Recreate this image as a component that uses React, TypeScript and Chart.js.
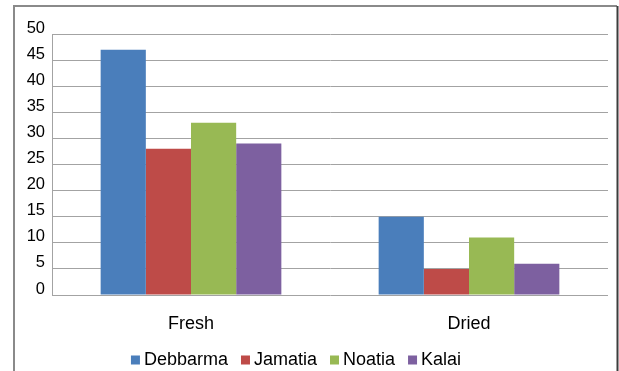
import React, { useEffect, useRef } from "react";
import { Chart, registerables } from "chart.js";

Chart.register(...registerables);

const categories = ["Fresh", "Dried"];
const seriesNames = ["Debbarma", "Jamatia", "Noatia", "Kalai"];
const seriesColors = ["#4a7ebb", "#be4b48", "#98b954", "#7d60a0"];
const debbarma = [47, 15];
const jamatia = [28, 5];
const noatia = [33, 11];
const kalai = [29, 6];
const yTicks = [0, 5, 10, 15, 20, 25, 30, 35, 40, 45, 50];

const FONT = '"Liberation Sans", Arial, sans-serif';

const frameAndLegend = {
  id: "frameAndLegend",
  beforeDraw(chart: any) {
    const ctx = chart.ctx;
    ctx.save();
    ctx.fillStyle = "#ffffff";
    ctx.fillRect(0, 0, chart.width, chart.height);
    ctx.lineWidth = 2;
    ctx.strokeStyle = "#8a8a8a";
    ctx.beginPath();
    ctx.moveTo(14, chart.height + 5);
    ctx.lineTo(14, 6);
    ctx.lineTo(617, 6);
    ctx.stroke();
    ctx.strokeStyle = "#3c3c3c";
    ctx.beginPath();
    ctx.moveTo(617.5, 6);
    ctx.lineTo(617.5, chart.height + 5);
    ctx.stroke();
    ctx.restore();
  },
  afterDraw(chart: any) {
    const ctx = chart.ctx;
    ctx.save();
    ctx.font = `18px ${FONT}`;
    ctx.textBaseline = "middle";
    const box = 9;
    const gapText = 4;
    const gapItem = 13;
    const ds = chart.data.datasets;
    const widths = ds.map((d: any) => box + gapText + ctx.measureText(d.label).width);
    const total = widths.reduce((a: number, b: number) => a + b, 0) + gapItem * (ds.length - 1);
    let x = 296 - total / 2;
    const y = 360;
    ds.forEach((d: any, i: number) => {
      ctx.fillStyle = d.backgroundColor;
      ctx.fillRect(x, y - box / 2, box, box);
      ctx.fillStyle = "#000000";
      ctx.fillText(d.label, x + box + gapText, y);
      x += widths[i] + gapItem;
    });
    ctx.restore();
  },
};

export default function App() {
  const ref = useRef<HTMLCanvasElement>(null);
  useEffect(() => {
    if (!ref.current) return;
    const seriesValues = [debbarma, jamatia, noatia, kalai];
    const chart = new Chart(ref.current, {
      type: "bar",
      data: {
        labels: categories,
        datasets: seriesNames.map((name, i) => ({
          label: name,
          data: seriesValues[i],
          backgroundColor: seriesColors[i],
          borderWidth: 0,
          barPercentage: 1,
          categoryPercentage: 0.65,
        })),
      },
      options: {
        responsive: false,
        animation: false,
        layout: { padding: { left: 14, right: 11, top: 34, bottom: 0 } },
        plugins: { legend: { display: false }, tooltip: { enabled: false } },
        scales: {
          x: {
            grid: { display: false },
            border: { display: false },
            ticks: { color: "#000", font: { family: FONT, size: 18 }, padding: 10 },
            afterFit: (axis: any) => {
              axis.height = 76;
            },
          },
          y: {
            min: 0,
            max: 50,
            afterBuildTicks: (axis: any) => {
              axis.ticks = yTicks.map((v) => ({ value: v }));
            },
            grid: { color: "#a3a3a3", lineWidth: 1, drawTicks: false },
            border: { display: true, color: "#a3a3a3", width: 1 },
            ticks: { color: "#000", font: { family: FONT, size: 16.5 }, padding: 7, labelOffset: -6 },
            afterFit: (axis: any) => {
              axis.width = 38;
            },
          },
        },
      },
      plugins: [frameAndLegend],
    });
    return () => chart.destroy();
  }, []);
  return (
    <div style={{ position: "absolute", left: 0, top: 0, width: 619, height: 371 }}>
      <canvas ref={ref} width={619} height={371} style={{ display: "block" }} />
    </div>
  );
}
